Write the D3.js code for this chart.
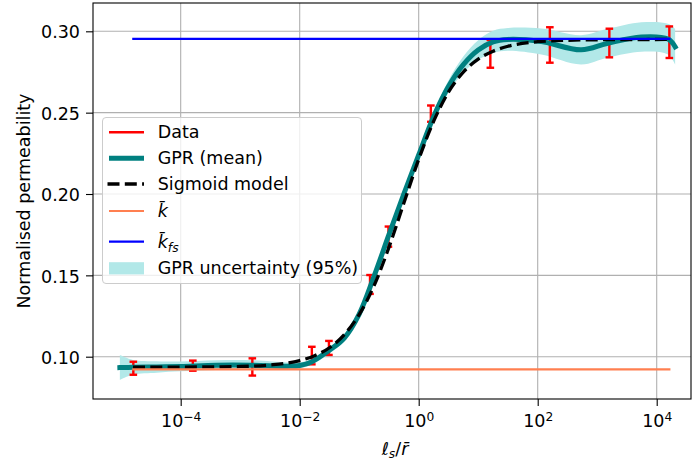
<!DOCTYPE html>
<html>
<head>
<meta charset="utf-8">
<script src="https://cdn.jsdelivr.net/npm/d3@7"></script>
<style>
  html, body { margin: 0; padding: 0; background: #fff; }
  svg { display: block; font-family: "DejaVu Sans", sans-serif; }
</style>
</head>
<body>
<svg id="chart" width="696" height="465"></svg>
<script>
// Measured permeability (normalised) against ℓs / r̄, with error half-widths
const dataX   = [1.6e-5, 1.6e-4, 1.6e-3, 1.6e-2, 3.1e-2, 0.152, 0.31, 1.6, 16, 160, 1600, 16300];
const dataY   = [0.0929, 0.0945, 0.0937, 0.1007, 0.1054, 0.1444, 0.1738, 0.2494, 0.2861, 0.2916, 0.2928, 0.2933];
const dataErr = [0.0040, 0.0031, 0.0053, 0.0054, 0.0043, 0.0058, 0.0062, 0.0050, 0.0085, 0.0109, 0.0088, 0.0097];

// Gaussian-process regression: posterior mean and 95% half-width
const gprX    = [9.5e-6, 1.58e-5, 3.98e-5, 1.0e-4, 3.98e-4, 1.58e-3, 6.3e-3, 1.0e-2, 1.58e-2, 3.16e-2, 5.62e-2, 0.1, 0.178, 0.316, 0.562, 1, 1.78, 3.16, 5.62, 10, 17.8, 31.6, 115, 537, 1514, 5495, 15488, 20400];
const gprMean = [0.0933, 0.0935, 0.0937, 0.0940, 0.0948, 0.0948, 0.0942, 0.0946, 0.0968, 0.1040, 0.1115, 0.1262, 0.1495, 0.1750, 0.2000, 0.2240, 0.2475, 0.2660, 0.2795, 0.2885, 0.2935, 0.2950, 0.2937, 0.2886, 0.2927, 0.2965, 0.2952, 0.2905];
const gprHalf = [0.0077, 0.0045, 0.0035, 0.0030, 0.0030, 0.0030, 0.0022, 0.0018, 0.0018, 0.0020, 0.0022, 0.0024, 0.0025, 0.0025, 0.0025, 0.0026, 0.0030, 0.0038, 0.0050, 0.0060, 0.0068, 0.0070, 0.0080, 0.0090, 0.0088, 0.0090, 0.0095, 0.0110];

// Fitted sigmoid model, sampled over the data range
const sigX = [1.58e-5, 1e-4, 1e-3, 3.16e-3, 1e-2, 1.78e-2, 3.16e-2, 5.62e-2, 0.1, 0.178, 0.316, 0.562, 1, 1.78, 3.16, 5.62, 10, 17.8, 31.6, 100, 316, 1000, 3162, 16300];
const sigY = [0.0935, 0.0936, 0.0940, 0.0949, 0.0976, 0.1006, 0.1055, 0.1136, 0.1259, 0.1437, 0.1672, 0.1943, 0.2213, 0.2446, 0.2626, 0.2749, 0.2829, 0.2878, 0.2908, 0.2936, 0.2945, 0.2948, 0.2949, 0.2950];

// Reference permeability levels
const kBar = 0.0922;
const kFs  = 0.2953;

// Axis ticks
const xTicks    = [1e-4, 1e-2, 1, 1e2, 1e4];
const xTickExps = ["\u22124", "\u22122", "0", "2", "4"];
const yTicks    = [0.10, 0.15, 0.20, 0.25, 0.30];

const C = {
  data: "#ff0000", gpr: "#008080", sig: "#000000",
  kbar: "#ff7f50", kfs: "#0000ff", band: "#b2e8e8",
  grid: "#b0b0b0"
};
const FS = 17.5;

const svg = d3.select("#chart");
const padL = 93, padT = 3, W = 598, H = 396;
const g = svg.append("g").attr("transform", `translate(${padL},${padT})`);

const x = d3.scaleLog().domain([3.36e-6, 3.77e4]).range([0, W]);
const y = d3.scaleLinear().domain([0.0740, 0.3174]).range([H, 0]);

// grid
g.append("g").selectAll("line").data(xTicks).join("line")
  .attr("x1", d => x(d)).attr("x2", d => x(d)).attr("y1", 0).attr("y2", H)
  .attr("stroke", C.grid).attr("stroke-width", 1.1);
g.append("g").selectAll("line").data(yTicks).join("line")
  .attr("y1", d => y(d)).attr("y2", d => y(d)).attr("x1", 0).attr("x2", W)
  .attr("stroke", C.grid).attr("stroke-width", 1.1);

const plot = g.append("g");
const gpr = gprX.map((v, i) => ({x: v, m: gprMean[i], h: gprHalf[i]}));

// uncertainty band
plot.append("path").datum(gpr)
  .attr("d", d3.area().x(d => x(d.x)).y0(d => y(d.m - d.h)).y1(d => y(d.m + d.h))
    .curve(d3.curveCatmullRom.alpha(0.5)))
  .attr("fill", C.band);

// error bars
const pts = dataX.map((v, i) => ({x: v, y: dataY[i], e: dataErr[i]}));
const eb = plot.append("g").attr("stroke", C.data).attr("stroke-width", 2.4);
eb.selectAll("line.v").data(pts).join("line").attr("class", "v")
  .attr("x1", d => x(d.x)).attr("x2", d => x(d.x))
  .attr("y1", d => y(d.y - d.e)).attr("y2", d => y(d.y + d.e));
eb.selectAll("line.t").data(pts).join("line").attr("class", "t")
  .attr("x1", d => x(d.x) - 3.8).attr("x2", d => x(d.x) + 3.8)
  .attr("y1", d => y(d.y + d.e)).attr("y2", d => y(d.y + d.e));
eb.selectAll("line.b").data(pts).join("line").attr("class", "b")
  .attr("x1", d => x(d.x) - 3.8).attr("x2", d => x(d.x) + 3.8)
  .attr("y1", d => y(d.y - d.e)).attr("y2", d => y(d.y - d.e));

// GPR mean
plot.append("path").datum(gpr)
  .attr("d", d3.line().x(d => x(d.x)).y(d => y(d.m)).curve(d3.curveCatmullRom.alpha(0.5)))
  .attr("fill", "none").attr("stroke", C.gpr).attr("stroke-width", 5)
  .attr("stroke-linecap", "square").attr("stroke-linejoin", "round");

// sigmoid model
plot.append("path").datum(sigX.map((v, i) => [v, sigY[i]]))
  .attr("d", d3.line().x(d => x(d[0])).y(d => y(d[1])).curve(d3.curveMonotoneX))
  .attr("fill", "none").attr("stroke", C.sig).attr("stroke-width", 3.3)
  .attr("stroke-dasharray", "12,5.3");

// reference levels across the data range
const xr = d3.extent(dataX);
[[kBar, C.kbar], [kFs, C.kfs]].forEach(([v, c]) => {
  plot.append("line")
    .attr("x1", x(xr[0])).attr("x2", x(xr[1])).attr("y1", y(v)).attr("y2", y(v))
    .attr("stroke", c).attr("stroke-width", 2.2).attr("stroke-linecap", "square");
});

// axes
const xAxis = g.append("g").attr("transform", `translate(0,${H})`)
  .call(d3.axisBottom(x).tickValues(xTicks).tickSize(7).tickSizeOuter(0));
xAxis.select(".domain").remove();
xAxis.selectAll(".tick line").attr("stroke", "#000").attr("stroke-width", 1.1);
xAxis.selectAll(".tick text").each(function(d, i) {
  const t = d3.select(this);
  t.text(null).attr("y", 28).attr("dy", null)
    .attr("font-size", FS).attr("font-family", "DejaVu Sans").attr("fill", "#000");
  t.append("tspan").text("10");
  t.append("tspan").attr("dy", -5.6).attr("font-size", FS * 0.7).text(xTickExps[i]);
});

const yAxis = g.append("g")
  .call(d3.axisLeft(y).tickValues(yTicks).tickFormat(d3.format(".2f")).tickSize(7).tickPadding(6).tickSizeOuter(0));
yAxis.select(".domain").remove();
yAxis.selectAll(".tick line").attr("stroke", "#000").attr("stroke-width", 1.1);
yAxis.selectAll(".tick text").attr("dy", "0.38em")
  .attr("font-size", FS).attr("font-family", "DejaVu Sans").attr("fill", "#000");

// frame
g.append("rect").attr("x", 0).attr("y", 0).attr("width", W).attr("height", H)
  .attr("fill", "none").attr("stroke", "#000").attr("stroke-width", 1.1);

// axis titles
svg.append("text")
  .attr("transform", `translate(29.5,${padT + H / 2}) rotate(-90)`)
  .attr("text-anchor", "middle").attr("font-size", FS)
  .text("Normalised permeability");

const xl = svg.append("text")
  .attr("x", padL + W / 2 + 3).attr("y", 455)
  .attr("text-anchor", "middle").attr("font-size", FS);
xl.append("tspan").attr("font-style", "italic").text("\u2113");
xl.append("tspan").attr("font-style", "italic").attr("font-size", FS * 0.7).attr("dy", 3).text("s");
xl.append("tspan").attr("dy", -3).text("/");
xl.append("tspan").attr("font-style", "italic").text("r\u0304");

// legend
const lg = svg.append("g");
lg.append("rect").attr("x", 102.5).attr("y", 117.5).attr("width", 259).attr("height", 166)
  .attr("rx", 3.5).attr("fill", "#fff").attr("fill-opacity", 0.8)
  .attr("stroke", "#cccccc").attr("stroke-width", 1);

const legendRows = [
  {cy: 132.3, type: "line", color: C.data, w: 2.6, label: "Data"},
  {cy: 158.3, type: "line", color: C.gpr, w: 5, label: "GPR (mean)"},
  {cy: 184.0, type: "dash", color: C.sig, w: 3.3, label: "Sigmoid model"},
  {cy: 211.0, type: "line", color: C.kbar, w: 2.2, label: "kbar"},
  {cy: 241.7, type: "line", color: C.kfs, w: 2.2, label: "kfs"},
  {cy: 268.3, type: "patch", color: C.band, label: "GPR uncertainty (95%)"}
];
legendRows.forEach(r => {
  if (r.type === "patch") {
    lg.append("rect").attr("x", 109).attr("y", r.cy - 6.1).attr("width", 35).attr("height", 12.2)
      .attr("fill", r.color);
  } else {
    const ln = lg.append("line").attr("x1", 109).attr("x2", 144).attr("y1", r.cy).attr("y2", r.cy)
      .attr("stroke", r.color).attr("stroke-width", r.w);
    if (r.type === "dash") ln.attr("stroke-dasharray", "12,5.3").attr("x1", 107.5);
  }
  const t = lg.append("text").attr("x", 157.7).attr("y", r.cy + 6).attr("font-size", FS);
  if (r.label === "kbar") {
    t.append("tspan").attr("font-style", "italic").text("k\u0304");
  } else if (r.label === "kfs") {
    t.append("tspan").attr("font-style", "italic").text("k\u0304");
    t.append("tspan").attr("font-style", "italic").attr("font-size", FS * 0.7).attr("dy", 4).text("fs");
  } else {
    t.text(r.label);
  }
});
</script>
</body>
</html>
